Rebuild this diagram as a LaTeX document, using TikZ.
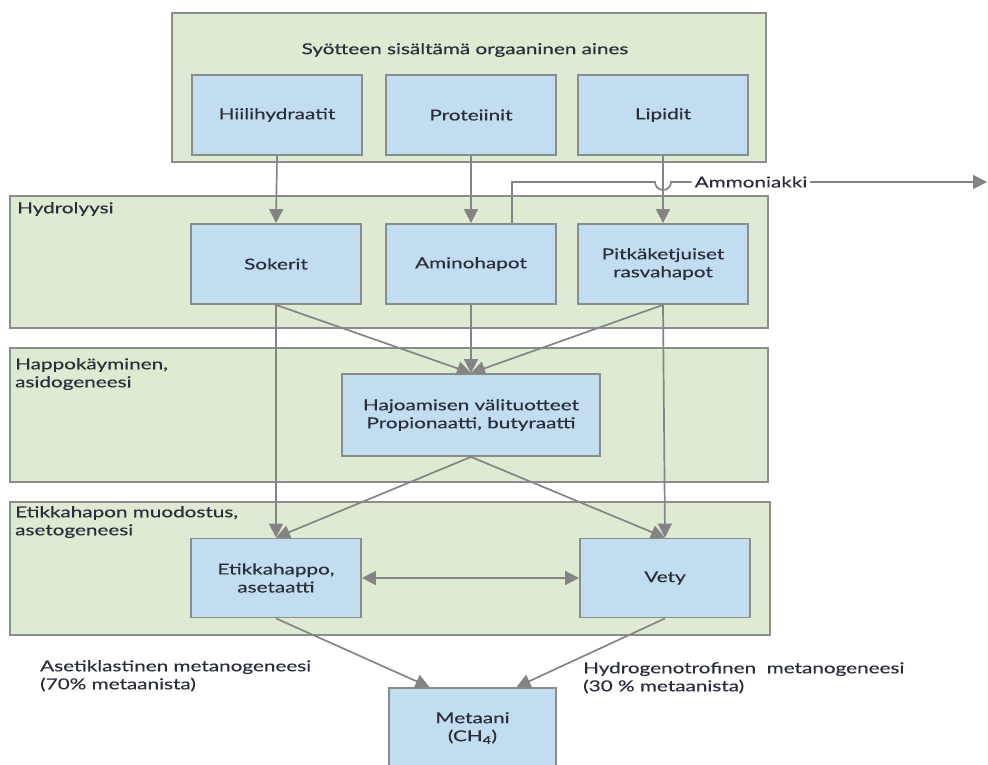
\documentclass[tikz,border=0pt]{standalone}
\usepackage{fontspec}
\setmainfont{Lato}[FakeStretch=1.38,FakeBold=0.4]
\usetikzlibrary{arrows.meta,calc}
\definecolor{grn}{HTML}{DDEBD3}
\definecolor{blu}{HTML}{C3DDF0}
\definecolor{edge}{HTML}{8C8C8C}
\definecolor{arr}{HTML}{848484}
\definecolor{txt}{HTML}{2A2E3A}
\begin{document}
\begin{tikzpicture}[x=1pt,y=-1pt,
  stage/.style={draw=edge,line width=1.8pt,fill=grn,inner sep=0pt},
  bbox/.style={draw=edge,line width=1.8pt,fill=blu,minimum width=170pt,minimum height=80pt,inner sep=2pt,align=center,font=\fontsize{15}{18}\selectfont,text=txt},
  lbl/.style={anchor=north west,align=left,font=\fontsize{15}{18}\selectfont,text=txt,inner sep=0pt},
  con/.style={draw=arr,line width=1.7pt,-{Triangle[length=14pt,width=14pt]}},
  plain/.style={draw=arr,line width=1.7pt}]
\useasboundingbox (0,0) rectangle (988,765);
% stage boxes
\node[stage,minimum width=594pt,minimum height=149pt] (s0) at (469,87.5) {};
\node[stage,minimum width=758pt,minimum height=132pt] (s1) at (389,262) {};
\node[stage,minimum width=758pt,minimum height=134pt] (s2) at (389,415) {};
\node[stage,minimum width=760pt,minimum height=133pt] (s3) at (390,568.5) {};
% stage labels
\node[font=\fontsize{15}{18}\selectfont,text=txt] (t0) at (465,50) {Syötteen sisältämä orgaaninen aines};
\node[lbl] (l1) at (17,202) {Hydrolyysi};
\node[lbl] (l2) at (15,358) {Happokäyminen,\\asidogeneesi};
\node[lbl] (l3) at (15,506) {Etikkahapon muodostus,\\asetogeneesi};
% blue boxes
\node[bbox] (hh) at (277,115) {Hiilihydraatit};
\node[bbox] (pr) at (471,115) {Proteiinit};
\node[bbox] (li) at (663,115) {Lipidit};
\node[bbox] (so) at (276,264) {Sokerit};
\node[bbox] (am) at (471,264) {Aminohapot};
\node[bbox] (pk) at (663,264) {Pitkäketjuiset\\rasvahapot};
\node[bbox,minimum width=258pt,minimum height=82pt] (ha) at (471,415) {Hajoamisen välituotteet\\Propionaatti, butyraatti};
\node[bbox,minimum height=79pt] (et) at (276,578) {Etikkahappo,\\asetaatti};
\node[bbox,minimum height=79pt] (ve) at (665,578) {Vety};
\node[bbox,minimum width=167pt] (me) at (472.5,728) {Metaani\\(CH\textsubscript{4})};
% side labels
\node[lbl] (a1) at (40,660) {Asetiklastinen metanogeneesi\\(70\% metaanista)};
\node[lbl] (a2) at (583,662) {Hydrogenotrofinen\ \ metanogeneesi\\(30 \% metaanista)};
% connectors
\draw[con] (hh.south) -- (so.north);
\draw[con] (pr.south) -- (am.north);
\draw[con] (li.south) -- (pk.north);
\draw[con] (so.south) -- (ha.north);
\draw[con] (am.south) -- (ha.north);
\draw[con] (pk.south) -- (ha.north);
\draw[con] (so.south) -- (et.north);
\draw[con] (pk.south) -- (ve.north);
\draw[con] (ha.south) -- (et.north);
\draw[con] (ha.south) -- (ve.north);
\draw[con,{Triangle[length=14pt,width=14pt]}-{Triangle[length=14pt,width=14pt]}] (et.east) -- (ve.west);
\draw[con] (et.south) -- ($(me.north)+(-43,0)$);
\draw[con] (ve.south) -- ($(me.north)+(44,0)$);
% Ammoniakki
\node[font=\fontsize{15}{18}\selectfont,text=txt,inner sep=3pt] (nh) at (751,182) {Ammoniakki};
\coordinate (nhend) at (987,182);
\draw[plain] ($(am.north)+(41,0)$) |- (655,182) arc[start angle=180,end angle=0,x radius=8pt,y radius=-8pt] -- (nh.west);
\draw[con] (nh.east) -- (nhend);
\end{tikzpicture}
\end{document}
